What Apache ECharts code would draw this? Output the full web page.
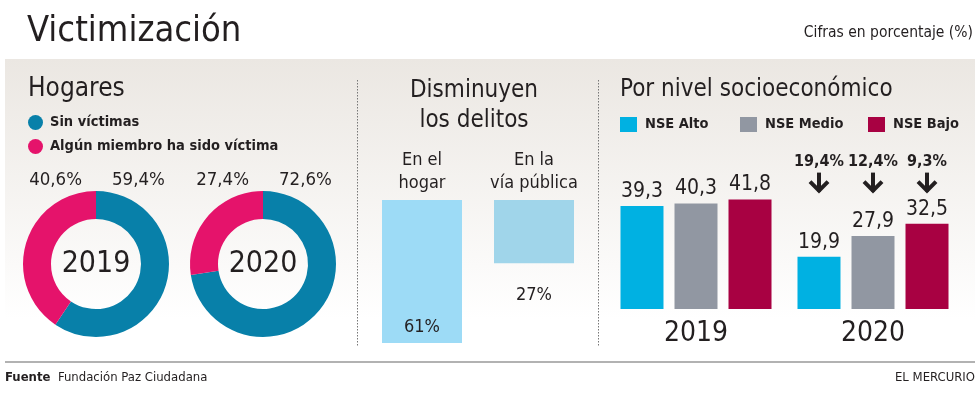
<!DOCTYPE html>
<html><head><meta charset="utf-8">
<script src="https://cdn.jsdelivr.net/npm/echarts@6/dist/echarts.min.js"></script>
<style>html,body{margin:0;padding:0;background:#fff}#c{width:980px;height:395px}</style>
</head><body><div id="c"></div>
<script>
const FONT = "'DejaVu Sans Condensed', 'Liberation Sans Narrow', sans-serif";
const TXT = '#231f20';

// ---- data ----
const hogarNames = ['Sin víctimas', 'Algún miembro ha sido víctima'];
const hogarYears = ['2019', '2020'];
const hogar2019 = [59.4, 40.6];
const hogar2020 = [72.6, 27.4];
const delitosCats = ['En el\nhogar', 'En la\nvía pública'];
const delitosValues = [61, 27];
const nseYears = ['2019', '2020'];
const nseNames = ['NSE Alto', 'NSE Medio', 'NSE Bajo'];
const nseAlto = [39.3, 19.9];
const nseMedio = [40.3, 27.9];
const nseBajo = [41.8, 32.5];
const nseDeclines = [19.4, 12.4, 9.3];

// ---- styles ----
const hogarColors = ['#0880a9', '#e5136b'];
const delitosColors = ['#9ddbf6', '#a0d5ea'];
const nseColors = ['#00b1e2', '#9197a2', '#a80142'];
const donutCenters = [[96, 264], [263, 264]];
const nseLegendLeft = [620, 740, 868];

const fmt = v => v.toFixed(1).replace('.', ',');

const chart = echarts.init(document.getElementById('c'), null, {renderer: 'canvas'});

const graphics = [
  {type: 'rect', z: -10, shape: {x: 5, y: 59, width: 970, height: 296},
   style: {fill: {type: 'linear', x: 0, y: 0, x2: 0, y2: 1,
     colorStops: [{offset: 0, color: '#ebe7e2'}, {offset: 0.88, color: '#ffffff'}]}}},
  {type: 'text', x: 27, y: 32, style: {text: 'Victimización', font: '36px ' + FONT, fill: TXT, align: 'left', verticalAlign: 'middle'}},
  {type: 'text', x: 973, y: 33, style: {text: 'Cifras en porcentaje (%)', font: '15.5px ' + FONT, fill: TXT, align: 'right', verticalAlign: 'middle'}},
  {type: 'text', x: 28, y: 89, style: {text: 'Hogares', font: '26px ' + FONT, fill: TXT, align: 'left', verticalAlign: 'middle'}},
  {type: 'text', x: 474, y: 106, style: {text: 'Disminuyen\nlos delitos', font: '24px ' + FONT, lineHeight: 30, fill: TXT, align: 'center', verticalAlign: 'middle'}},
  {type: 'text', x: 620, y: 90, style: {text: 'Por nivel socioeconómico', font: '24px ' + FONT, fill: TXT, align: 'left', verticalAlign: 'middle'}},
  {type: 'line', shape: {x1: 357.5, y1: 80, x2: 357.5, y2: 346}, style: {stroke: '#777', lineWidth: 1, lineDash: [1.5, 1.5]}},
  {type: 'line', shape: {x1: 598.5, y1: 80, x2: 598.5, y2: 346}, style: {stroke: '#777', lineWidth: 1, lineDash: [1.5, 1.5]}},
  {type: 'line', shape: {x1: 5, y1: 362, x2: 975, y2: 362}, style: {stroke: '#999', lineWidth: 1.5}},
  {type: 'text', x: 5, y: 378, style: {text: '{b|Fuente}  Fundación Paz Ciudadana', font: '13px ' + FONT, fill: TXT, align: 'left', verticalAlign: 'middle',
     rich: {b: {font: 'bold 13px ' + FONT, fill: TXT}}}},
  {type: 'text', x: 975, y: 378, style: {text: 'EL MERCURIO', font: '13px ' + FONT, fill: TXT, align: 'right', verticalAlign: 'middle'}}
];

[hogar2019, hogar2020].forEach((vals, i) => {
  const [cx, cy] = donutCenters[i];
  graphics.push({type: 'text', x: cx - 14, y: 180, style: {text: fmt(vals[1]) + '%', font: '18.5px ' + FONT, fill: TXT, align: 'right', verticalAlign: 'middle'}});
  graphics.push({type: 'text', x: cx + 16, y: 180, style: {text: fmt(vals[0]) + '%', font: '18.5px ' + FONT, fill: TXT, align: 'left', verticalAlign: 'middle'}});
  graphics.push({type: 'text', x: cx, y: cy, style: {text: hogarYears[i], font: '30px ' + FONT, fill: TXT, align: 'center', verticalAlign: 'middle'}});
});

const pieSeries = [hogar2019, hogar2020].map((vals, i) => ({
  type: 'pie', center: donutCenters[i], radius: [45, 73], startAngle: 90, clockwise: true,
  label: {show: false}, labelLine: {show: false}, silent: true,
  itemStyle: {borderWidth: 0},
  data: vals.map((v, j) => ({name: hogarNames[j], value: v, itemStyle: {color: hogarColors[j]}}))
}));

const nseData = [nseAlto, nseMedio, nseBajo];
const nseSeries = nseData.map((vals, i) => ({
  type: 'bar', name: nseNames[i], xAxisIndex: 1, yAxisIndex: 1,
  barWidth: 43, barGap: '25.6%', silent: true,
  itemStyle: {color: nseColors[i]},
  label: {show: true, position: 'top', distance: 4, fontFamily: FONT, fontSize: 21, color: TXT, formatter: p => fmt(p.value)},
  data: vals
}));

const declineSeries = {
  type: 'custom', xAxisIndex: 1, yAxisIndex: 1, silent: true,
  encode: {x: 0, y: 1},
  data: nseDeclines.map((d, i) => [1, d, i]),
  renderItem: (params, api) => {
    const cat = api.value(0), idx = api.value(2);
    const base = api.coord([cat, 0]);
    const yRef = api.coord([cat, 70])[1];
    const x = base[0] + (idx - 1) * (43 + 11);
    return {type: 'group', children: [
      {type: 'text', style: {text: fmt(api.value(1)) + '%', x: x, y: yRef + 36, align: 'center', verticalAlign: 'middle', font: 'bold 16px ' + FONT, fill: TXT}},
      {type: 'polyline', shape: {points: [[x, yRef + 47], [x, yRef + 66]]}, style: {stroke: TXT, lineWidth: 4, fill: null}},
      {type: 'polyline', shape: {points: [[x - 9, yRef + 56], [x, yRef + 65], [x + 9, yRef + 56]]}, style: {stroke: TXT, lineWidth: 4, fill: null}}
    ]};
  }
};

const delitosSeries = {
  type: 'bar', xAxisIndex: 0, yAxisIndex: 0, barWidth: 80, silent: true,
  data: delitosValues.map((v, i) => ({
    value: v,
    itemStyle: {color: delitosColors[i]},
    label: i === 0
      ? {show: true, position: 'insideBottom', distance: 7}
      : {show: true, position: 'bottom', distance: 23}
  })),
  label: {fontFamily: FONT, fontSize: 18, color: TXT, formatter: p => p.value + '%'}
};

const legendText = {fontFamily: FONT, fontSize: 14.5, fontWeight: 'bold', color: TXT};
const legends = [
  {data: hogarNames, left: 28, top: 115, padding: 0, orient: 'vertical', itemGap: 9, itemWidth: 15, itemHeight: 15, icon: 'circle',
   selectedMode: false, textStyle: Object.assign({}, legendText, {padding: [0, 0, 0, 2]})}
].concat(nseNames.map((n, i) => ({
  data: [n], left: nseLegendLeft[i], top: 117, padding: 0, orient: 'horizontal', itemWidth: 17, itemHeight: 15, icon: 'rect',
  selectedMode: false, textStyle: Object.assign({}, legendText, {padding: [0, 0, 0, 3]})
})));

chart.setOption({
  animation: false,
  backgroundColor: '#ffffff',
  textStyle: {fontFamily: FONT},
  legend: legends,
  grid: [
    {left: 366, width: 224, top: 200, height: 150},
    {left: 607.5, width: 354, top: 125.6, height: 183.4}
  ],
  xAxis: [
    {type: 'category', gridIndex: 0, data: delitosCats, position: 'top',
     axisLine: {show: false}, axisTick: {show: false}, splitLine: {show: false},
     axisLabel: {interval: 0, margin: 5, fontFamily: FONT, fontSize: 18, lineHeight: 23, color: TXT}},
    {type: 'category', gridIndex: 1, data: nseYears,
     axisLine: {show: false}, axisTick: {show: false}, splitLine: {show: false},
     axisLabel: {interval: 0, margin: 11, fontFamily: FONT, fontSize: 28, color: TXT}}
  ],
  yAxis: [
    {type: 'value', gridIndex: 0, inverse: true, min: 0, max: 64, show: false},
    {type: 'value', gridIndex: 1, min: 0, max: 70, show: false}
  ],
  graphic: graphics,
  series: [...pieSeries, delitosSeries, ...nseSeries, declineSeries]
});
</script></body></html>
